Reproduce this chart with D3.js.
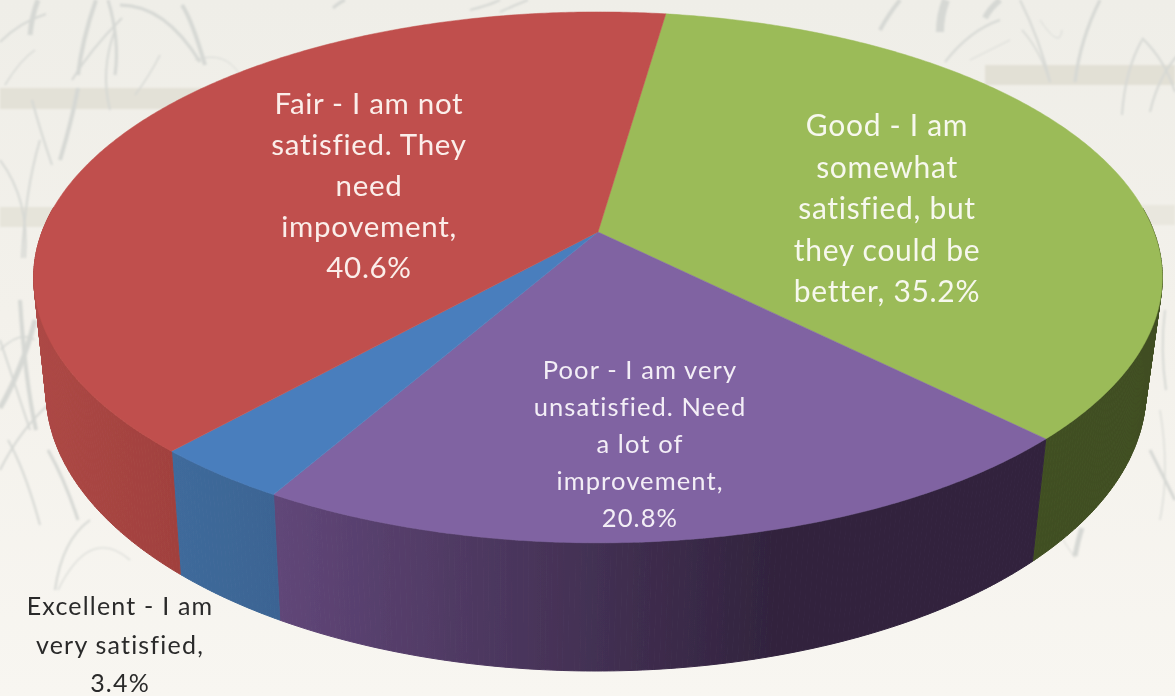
<!DOCTYPE html>
<html>
<head>
<meta charset="utf-8">
<script src="https://cdnjs.cloudflare.com/ajax/libs/d3/7.8.5/d3.min.js"></script>
<style>
  html, body { margin: 0; padding: 0; background: #f6f4ee; overflow: hidden; }
  text { font-family: Lato, "Open Sans", sans-serif; text-anchor: middle; font-variant-ligatures: none; }
</style>
</head>
<body>
<svg id="chart" width="1175" height="696"></svg>
<script>
// chart values, clockwise from the red/green edge
var categories = ["Good", "Poor", "Excellent", "Fair"];
var shares = [35.2, 20.8, 3.4, 40.6];
var topColors = ["#9bbb59", "#8064a2", "#4a7ebd", "#c0504d"];
var labelLines = [
    ["Good - I am", "somewhat", "satisfied, but", "they could be", "better, 35.2%"],
    ["Poor - I am very", "unsatisfied. Need", "a lot of", "improvement,", "20.8%"],
    ["Excellent - I am", "very satisfied,", "3.4%"],
    ["Fair - I am not", "satisfied. They", "need", "impovement,", "40.6%"]
];

// left/right wall colour of each slice
var wallColors = [
    ["#414f22", "#404e20"],
    ["#604678", "#31233d"],
    ["#3f6a9b", "#3b6493"],
    ["#ad4845", "#a1413e"]
];

// x span each wall gradient runs over
var wallSpans = [[1030, 1160], [280, 780], [175, 280], [35, 175]];

// label placement: centre x, first baseline, line step, size, tracking, colour
var labelSpots = [
    {x: 887, y: 136, step: 41.6, size: 30, track: 0.7, color: "#f7f8ee"},
    {x: 640, y: 379, step: 37, size: 25.5, track: 1.1, color: "#f3eef6"},
    {x: 120, y: 615, step: 38.5, size: 25, track: 1.2, color: "#2b2b2b"},
    {x: 369, y: 114, step: 41, size: 29.5, track: 0.7, color: "#fbeeea"}
];

// perspective model of the top face, fitted to the slice corners
var apexX = 598, apexY = 232, radiusX = 556, radiusY = 257.7, tilt = 0.171;
var faceCy = apexY + radiusY * tilt / (1 - tilt * tilt),
    faceRx = radiusX / Math.sqrt(1 - tilt * tilt),
    faceRy = radiusY / (1 - tilt * tilt);

// the bottom face is a slightly narrower ellipse lower down
var baseCx = 596, baseCy = 391, baseRx = 550, baseRy = 280;

function topPoint(a) {
    var u = Math.sin(a), v = -Math.cos(a), w = 1 - tilt * v;
    return [apexX + radiusX * u / w, apexY + radiusY * v / w];
}

function basePoint(a) {
    var p = topPoint(a);
    return [baseCx + baseRx * (p[0] - apexX) / faceRx,
            baseCy + baseRy * (p[1] - faceCy) / faceRy];
}

var svg = d3.select("#chart");

var defs = svg.append("defs");
var bgGrad = defs.append("linearGradient").attr("id", "bg")
    .attr("x1", 0).attr("x2", 0).attr("y1", 0).attr("y2", 1);
bgGrad.append("stop").attr("offset", "0").attr("stop-color", "#efeee8");
bgGrad.append("stop").attr("offset", "0.45").attr("stop-color", "#f3f1eb");
bgGrad.append("stop").attr("offset", "1").attr("stop-color", "#f8f6f1");
defs.append("filter").attr("id", "soft")
    .append("feGaussianBlur").attr("stdDeviation", 1.1);
defs.append("filter").attr("id", "softEdge")
    .attr("x", "-2%").attr("y", "-2%").attr("width", "104%").attr("height", "104%")
    .append("feGaussianBlur").attr("stdDeviation", 0.5);
defs.append("filter").attr("id", "softText")
    .append("feGaussianBlur").attr("stdDeviation", 0.35);

svg.append("rect").attr("width", 1175).attr("height", 696).attr("fill", "url(#bg)");

// backdrop: field bands and rice blades
var bands = [
    [0, 88, 240, 21, "#e3e1d7"], [985, 65, 190, 20, "#e2e0d5"],
    [0, 207, 60, 20, "#e6e4da"], [1120, 205, 55, 20, "#e9e7de"]
];
var blades = [
    [30, 35, 32, 15, 38, 0, 5], [78, 75, 82, 40, 96, 0, 4], [72, 80, 90, 50, 122, 18, 2],
    [0, 42, 20, 22, 46, 14, 2], [120, 5, 165, 5, 200, 62, 3], [182, 5, 192, 20, 205, 65, 4],
    [115, 75, 120, 40, 108, 0, 3], [60, 160, 72, 120, 78, 88, 4], [52, 165, 40, 130, 32, 100, 2],
    [115, 30, 100, 70, 110, 110, 2], [25, 258, 30, 200, 0, 160, 2], [22, 258, 25, 190, 40, 140, 2],
    [5, 85, 20, 60, 35, 50, 1.5], [160, 55, 150, 75, 135, 95, 1.5], [240, 75, 225, 50, 195, 60, 1],
    [0, 408, 22, 370, 35, 320, 5], [36, 430, 25, 380, 20, 300, 4], [30, 430, 10, 370, 0, 340, 2],
    [0, 470, 20, 430, 48, 405, 2], [40, 525, 25, 470, 8, 440, 2], [78, 520, 65, 480, 48, 450, 3],
    [55, 590, 62, 540, 90, 520, 2], [58, 590, 90, 525, 130, 560, 1.2], [0, 350, 20, 330, 35, 340, 1.5],
    [880, 30, 888, 15, 900, 0, 4], [940, 32, 940, 15, 946, 0, 8], [985, 18, 990, 8, 1000, 0, 6],
    [945, 62, 970, 30, 1000, 20, 2], [1020, 0, 1040, 40, 1050, 82, 2], [1075, 82, 1080, 40, 1100, 0, 3],
    [1050, 82, 1040, 50, 1022, 30, 1.5], [1122, 115, 1125, 70, 1142, 40, 2], [1150, 112, 1160, 70, 1185, 48, 2],
    [1175, 92, 1165, 60, 1142, 38, 2], [1040, 20, 1060, 50, 1062, 30, 1], [970, 60, 1000, 45, 1010, 40, 1],
    [1165, 310, 1160, 350, 1166, 390, 2], [1150, 450, 1165, 480, 1175, 500, 3], [1160, 410, 1170, 470, 1160, 520, 1.2],
    [1075, 556, 1078, 540, 1082, 528, 5], [333, 8, 340, 2, 345, 0, 3], [470, 10, 490, 5, 500, 0, 2],
    [500, 12, 515, 5, 528, 0, 2], [1060, 535, 1068, 548, 1075, 558, 1]
];
var backdrop = svg.append("g").attr("filter", "url(#soft)");
backdrop.selectAll("rect").data(bands).enter().append("rect")
    .attr("x", function(d) { return d[0]; })
    .attr("y", function(d) { return d[1]; })
    .attr("width", function(d) { return d[2]; })
    .attr("height", function(d) { return d[3]; })
    .attr("fill", function(d) { return d[4]; });
backdrop.selectAll("path").data(blades).enter().append("path")
    .attr("d", function(d) {
        var p = d3.path();
        p.moveTo(d[0], d[1]);
        p.quadraticCurveTo(d[2], d[3], d[4], d[5]);
        return p.toString();
    })
    .attr("fill", "none")
    .attr("stroke", "#d6d8d4")
    .attr("stroke-width", function(d) { return d[6]; });

var startAngle = 8.2 * Math.PI / 180;
var pie = d3.pie().sort(null)
    .startAngle(startAngle)
    .endAngle(startAngle + 2 * Math.PI);
var slices = pie(shares);

var step = Math.PI / 360;
var outline = d3.line();
var pieGroup = svg.append("g").attr("filter", "url(#softEdge)");

function sliceAngles(d) {
    var list = d3.range(d.startAngle, d.endAngle, step);
    list.push(d.endAngle);
    return list;
}

// wall gradients, one per slice, running left to right on the page
slices.forEach(function(s, i) {
    var g = defs.append("linearGradient").attr("id", "wall" + i)
        .attr("gradientUnits", "userSpaceOnUse")
        .attr("x1", wallSpans[i][0]).attr("x2", wallSpans[i][1])
        .attr("y1", 0).attr("y2", 0);
    g.append("stop").attr("offset", 0).attr("stop-color", wallColors[i][0]);
    g.append("stop").attr("offset", 1).attr("stop-color", wallColors[i][1]);
});

// side wall: thin quads on the viewer's side of the rim, so the silhouette fills in
var strips = [];
slices.forEach(function(s, i) {
    var angles = sliceAngles(s).filter(function(a) {
        return topPoint(a)[1] > faceCy - 70;
    });
    d3.pairs(angles).forEach(function(pair) {
        strips.push({a: pair[0], b: pair[1], slice: i});
    });
});

pieGroup.append("g").selectAll("path").data(strips).enter().append("path")
    .attr("d", function(d) {
        return outline([topPoint(d.a), topPoint(d.b), basePoint(d.b), basePoint(d.a)]) + "Z";
    })
    .attr("fill", function(d) { return "url(#wall" + d.slice + ")"; })
    .attr("stroke", function(d) { return "url(#wall" + d.slice + ")"; })
    .attr("stroke-width", 1);

// top face
pieGroup.append("g").selectAll("path").data(slices).enter().append("path")
    .attr("d", function(d) {
        var pts = sliceAngles(d).map(topPoint);
        pts.unshift([apexX, apexY]);
        return outline(pts) + "Z";
    })
    .attr("fill", function(d, i) { return topColors[i]; })
    .attr("stroke", function(d, i) { return topColors[i]; })
    .attr("stroke-width", 0.5);

// labels
var labels = svg.append("g").attr("filter", "url(#softText)")
    .selectAll("text").data(categories).enter().append("text")
    .attr("fill", function(d, i) { return labelSpots[i].color; })
    .attr("font-size", function(d, i) { return labelSpots[i].size; })
    .attr("letter-spacing", function(d, i) { return labelSpots[i].track; });

labels.each(function(d, i) {
    var spot = labelSpots[i];
    d3.select(this).selectAll("tspan").data(labelLines[i]).enter().append("tspan")
        .attr("x", spot.x)
        .attr("y", function(l, j) { return spot.y + j * spot.step; })
        .text(function(l) { return l; });
});
</script>
</body>
</html>
